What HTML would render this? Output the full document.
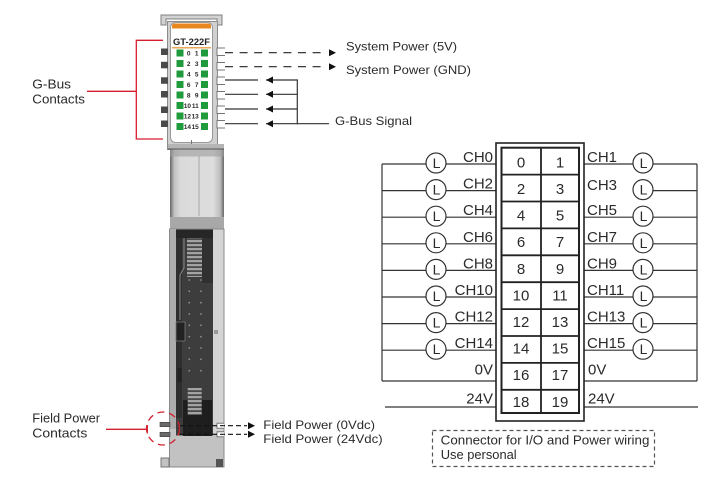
<!DOCTYPE html>
<html><head><meta charset="utf-8"><style>
html,body{margin:0;padding:0;background:#fff;}
svg{display:block;}
text{font-family:"Liberation Sans",sans-serif;fill:#2a2a2a;}
</style></head><body>
<svg width="720" height="500" viewBox="0 0 720 500" xmlns="http://www.w3.org/2000/svg">
<defs>
<linearGradient id="gp" x1="0" x2="1" y1="0" y2="0">
 <stop offset="0" stop-color="#666"/>
 <stop offset="0.08" stop-color="#c2c2c2"/>
 <stop offset="0.2" stop-color="#dadada"/>
 <stop offset="0.8" stop-color="#dddddd"/>
 <stop offset="0.93" stop-color="#bdbdbd"/>
 <stop offset="1" stop-color="#666"/>
</linearGradient>
<pattern id="st" width="6" height="4" patternUnits="userSpaceOnUse">
 <rect width="6" height="4" fill="#4a4a4a"/>
 <rect width="6" height="2.2" fill="#a3a3a3"/>
</pattern>
</defs>

<!-- ============ MODULE ============ -->
<path d="M161,25 V15 H222 V25 H217 V19 H166 V25 Z" fill="#d2d2d2" stroke="#808080"/>
<rect x="167.5" y="21.5" width="50" height="128" fill="#d0d0d0" stroke="#8c8c8c"/>
<!-- left G-bus contacts -->
<g fill="#4a4a4a">
<rect x="161" y="48.5" width="7" height="6.5"/>
<rect x="161" y="61.8" width="7" height="6.5"/>
<rect x="161" y="77.3" width="7" height="6.5"/>
<rect x="161" y="91" width="7" height="6.5"/>
<rect x="161" y="106.5" width="7" height="6.5"/>
<rect x="161" y="120.5" width="7" height="6.5"/>
</g>
<!-- right G-bus contacts -->
<g fill="#fff" stroke="#777" stroke-width="1">
<path d="M225,48 H217 V55.5 H225"/>
<path d="M225,62.5 H217 V70 H225"/>
<path d="M225,77 H217 V84.5 H225"/>
<path d="M225,91.5 H217 V99 H225"/>
<path d="M225,106 H217 V113.5 H225"/>
<path d="M225,120.5 H217 V128 H225"/>
</g>
<!-- label panel -->
<rect x="170.5" y="22.5" width="42" height="120" rx="5" fill="#fff" stroke="#9a9a9a"/>
<path d="M172,28.5 V26 Q172,23.5 175,23.5 H208 Q211,23.5 211,26 V28.5 Z" fill="#e8871e"/>
<text x="191.5" y="45" font-size="9.5" font-weight="bold" text-anchor="middle" textLength="37" lengthAdjust="spacingAndGlyphs" style="fill:#222">GT-222F</text>
<line x1="172" y1="47.8" x2="211" y2="47.8" stroke="#e8871e" stroke-width="1.2"/>
<g fill="#1f9a3c">
<rect x="176.5" y="49.5" width="7" height="7"/><rect x="201" y="49.5" width="7" height="7"/>
<rect x="176.5" y="60" width="7" height="7"/><rect x="201" y="60" width="7" height="7"/>
<rect x="176.5" y="70.5" width="7" height="7"/><rect x="201" y="70.5" width="7" height="7"/>
<rect x="176.5" y="81" width="7" height="7"/><rect x="201" y="81" width="7" height="7"/>
<rect x="176.5" y="91.5" width="7" height="7"/><rect x="201" y="91.5" width="7" height="7"/>
<rect x="176.5" y="102" width="7" height="7"/><rect x="201" y="102" width="7" height="7"/>
<rect x="176.5" y="112.5" width="7" height="7"/><rect x="201" y="112.5" width="7" height="7"/>
<rect x="176.5" y="123" width="7" height="7"/><rect x="201" y="123" width="7" height="7"/>
</g>
<g font-size="6.5" font-weight="bold" text-anchor="end">
<text x="190.5" y="55.5">0</text><text x="198.5" y="55.5">1</text>
<text x="190.5" y="66">2</text><text x="198.5" y="66">3</text>
<text x="190.5" y="76.5">4</text><text x="198.5" y="76.5">5</text>
<text x="190.5" y="87">6</text><text x="198.5" y="87">7</text>
<text x="190.5" y="97.5">8</text><text x="198.5" y="97.5">9</text>
<text x="191" y="108">10</text><text x="198.8" y="108">11</text>
<text x="191" y="118.5">12</text><text x="198.8" y="118.5">13</text>
<text x="191" y="129">14</text><text x="198.8" y="129">15</text>
</g>
<line x1="191.5" y1="140" x2="191.5" y2="145" stroke="#777"/>
<!-- ledge + gradient panel -->
<rect x="168" y="144" width="56" height="5" fill="#b5b5b5"/>
<line x1="168" y1="149" x2="224" y2="149" stroke="#555"/>
<rect x="170" y="149.5" width="54" height="67.5" fill="url(#gp)"/>
<rect x="170" y="149.5" width="54" height="7" fill="#9c9c9c" opacity="0.6"/>
<line x1="199" y1="156" x2="199" y2="216" stroke="#a8a8a8"/>
<rect x="170" y="217" width="54" height="12" fill="#a8a8a8"/>
<line x1="170" y1="229" x2="224" y2="229" stroke="#777"/>
<!-- lower body -->
<rect x="169.5" y="229" width="54.5" height="238" fill="#c2c2c2" stroke="#8a8a8a"/>
<rect x="170" y="229" width="6" height="200" fill="#adadad"/>
<rect x="213" y="229.5" width="10.5" height="205" fill="#d4d4d4"/>
<!-- connector -->
<rect x="176" y="229.5" width="37" height="206" fill="#3d3d3d"/>
<rect x="176" y="229.5" width="37" height="9" fill="#262626"/>
<rect x="176" y="238" width="6" height="180" fill="#2e2e2e"/>
<rect x="202" y="238" width="11" height="45" fill="#303030"/>
<path d="M184,238 V268 L180,275 V320" fill="none" stroke="#8a8a8a" stroke-width="1"/>
<rect x="187" y="238" width="15" height="39" fill="url(#st)"/>
<g fill="#8e8e8e">
<circle cx="189.3" cy="280" r="0.9"/><circle cx="201" cy="280" r="0.9"/>
<circle cx="189.3" cy="291.3" r="0.9"/><circle cx="201" cy="291.3" r="0.9"/>
<circle cx="189.3" cy="302.7" r="0.9"/><circle cx="201" cy="302.7" r="0.9"/>
<circle cx="189.3" cy="314" r="0.9"/><circle cx="201" cy="314" r="0.9"/>
<circle cx="189.3" cy="325.3" r="0.9"/><circle cx="201" cy="325.3" r="0.9"/>
<circle cx="189.3" cy="336.7" r="0.9"/><circle cx="201" cy="336.7" r="0.9"/>
<circle cx="189.3" cy="348" r="0.9"/><circle cx="201" cy="348" r="0.9"/>
<circle cx="189.3" cy="359.3" r="0.9"/><circle cx="201" cy="359.3" r="0.9"/>
<circle cx="189.3" cy="370.7" r="0.9"/><circle cx="201" cy="370.7" r="0.9"/>
</g>
<rect x="176" y="322" width="9" height="19" fill="#222" stroke="#777" stroke-width="0.8"/>
<rect x="177.5" y="368" width="4" height="14" fill="#222"/>
<rect x="214" y="330" width="4" height="4" fill="#999"/>
<rect x="183" y="400" width="29" height="36" fill="#1e1e1e"/>
<rect x="187.7" y="388" width="14" height="27" fill="url(#st)"/>
<!-- bottom feet -->
<path d="M169,458 H161 V467 H169 Z" fill="#c2c2c2" stroke="#777"/>
<rect x="216" y="459" width="7" height="8" fill="#555"/>
<!-- field power contacts -->
<rect x="160" y="422.3" width="10" height="4.4" fill="#6a6a6a" stroke="#444" stroke-width="0.6"/>
<rect x="160" y="432.3" width="10" height="4.4" fill="#6a6a6a" stroke="#444" stroke-width="0.6"/>
<path d="M224,423.3 H217 V428.3 H224" fill="#fff" stroke="#777"/>
<path d="M224,431.7 H217 V436.7 H224" fill="#fff" stroke="#777"/>

<!-- ============ LEFT LABELS (red) ============ -->
<g stroke="#d51f2e" stroke-width="1.3" fill="none">
<path d="M163,40.3 H136.3 V139 H163"/>
<line x1="87" y1="91.3" x2="136.3" y2="91.3"/>
<line x1="106" y1="429.3" x2="147.3" y2="429.3"/>
<line x1="147.3" y1="425" x2="147.3" y2="433.5"/>
<circle cx="163" cy="428.5" r="16.5" stroke-dasharray="7 5"/>
</g>
<g font-size="13">
<text x="32.3" y="88.3" textLength="38.7" lengthAdjust="spacingAndGlyphs">G-Bus</text>
<text x="32.3" y="103.3" textLength="52.7" lengthAdjust="spacingAndGlyphs">Contacts</text>
<text x="32.3" y="422.3" textLength="67.7" lengthAdjust="spacingAndGlyphs">Field Power</text>
<text x="32.3" y="437.3" textLength="55" lengthAdjust="spacingAndGlyphs">Contacts</text>
</g>

<!-- ============ TOP RIGHT SIGNALS ============ -->
<g stroke="#222" stroke-width="1.2" fill="none">
<line x1="225" y1="52.7" x2="327" y2="52.7" stroke-dasharray="8 6.6"/>
<line x1="225" y1="66.7" x2="327" y2="66.7" stroke-dasharray="8 6.6"/>
</g>
<g fill="#111">
<polygon points="329,49.2 336,52.7 329,56.2"/>
<polygon points="329,63.2 336,66.7 329,70.2"/>
</g>
<g stroke="#333" stroke-width="1.2" fill="none">
<line x1="225" y1="80" x2="258" y2="80"/><line x1="266" y1="80" x2="297.3" y2="80"/>
<line x1="225" y1="94.3" x2="258" y2="94.3"/><line x1="266" y1="94.3" x2="297.3" y2="94.3"/>
<line x1="225" y1="109" x2="258" y2="109"/><line x1="266" y1="109" x2="297.3" y2="109"/>
<line x1="225" y1="123.7" x2="258" y2="123.7"/><line x1="266" y1="123.7" x2="329" y2="123.7"/>
<line x1="297.3" y1="79.4" x2="297.3" y2="124.3"/>
</g>
<g fill="#111">
<polygon points="266,80 273,76.5 273,83.5"/>
<polygon points="266,94.3 273,90.8 273,97.8"/>
<polygon points="266,109 273,105.5 273,112.5"/>
<polygon points="266,123.7 273,120.2 273,127.2"/>
</g>
<g font-size="12">
<text x="346" y="50.5" textLength="111" lengthAdjust="spacingAndGlyphs">System Power (5V)</text>
<text x="346" y="74" textLength="125" lengthAdjust="spacingAndGlyphs">System Power (GND)</text>
<text x="335" y="125" textLength="77" lengthAdjust="spacingAndGlyphs">G-Bus Signal</text>
</g>

<!-- ============ FIELD POWER ARROWS ============ -->
<g stroke="#111" stroke-width="1.2" fill="none" stroke-dasharray="5 3">
<line x1="180" y1="425.7" x2="247" y2="425.7"/>
<line x1="180" y1="434.3" x2="247" y2="434.3"/>
</g>
<g fill="#111">
<polygon points="248,422.2 255,425.7 248,429.2"/>
<polygon points="248,430.8 255,434.3 248,437.8"/>
</g>
<g font-size="12">
<text x="263.3" y="429" textLength="111.7" lengthAdjust="spacingAndGlyphs">Field Power (0Vdc)</text>
<text x="263.3" y="443" textLength="119.3" lengthAdjust="spacingAndGlyphs">Field Power (24Vdc)</text>
</g>

<!-- ============ CONNECTOR WIRING ============ -->
<g stroke="#333" stroke-width="1.2" fill="none">
<!-- left vertical -->
<line x1="382" y1="164" x2="382" y2="381"/>
<!-- left wires -->
<line x1="382" y1="164" x2="426" y2="164"/><line x1="446" y1="164" x2="496" y2="164"/>
<line x1="382" y1="190.6" x2="426" y2="190.6"/><line x1="446" y1="190.6" x2="496" y2="190.6"/>
<line x1="382" y1="217.2" x2="426" y2="217.2"/><line x1="446" y1="217.2" x2="496" y2="217.2"/>
<line x1="382" y1="243.8" x2="426" y2="243.8"/><line x1="446" y1="243.8" x2="496" y2="243.8"/>
<line x1="382" y1="270.4" x2="426" y2="270.4"/><line x1="446" y1="270.4" x2="496" y2="270.4"/>
<line x1="382" y1="297" x2="426" y2="297"/><line x1="446" y1="297" x2="496" y2="297"/>
<line x1="382" y1="323.6" x2="426" y2="323.6"/><line x1="446" y1="323.6" x2="496" y2="323.6"/>
<line x1="382" y1="350.2" x2="426" y2="350.2"/><line x1="446" y1="350.2" x2="496" y2="350.2"/>
<line x1="382" y1="381" x2="496" y2="381"/>
<line x1="385" y1="407" x2="496" y2="407"/>
<!-- right vertical -->
<line x1="697" y1="164" x2="697" y2="381"/>
<line x1="584" y1="164" x2="633" y2="164"/><line x1="653" y1="164" x2="697" y2="164"/>
<line x1="653" y1="190.6" x2="697" y2="190.6"/>
<line x1="584" y1="217.2" x2="633" y2="217.2"/><line x1="653" y1="217.2" x2="697" y2="217.2"/>
<line x1="584" y1="243.8" x2="633" y2="243.8"/><line x1="653" y1="243.8" x2="697" y2="243.8"/>
<line x1="584" y1="270.4" x2="633" y2="270.4"/><line x1="653" y1="270.4" x2="697" y2="270.4"/>
<line x1="584" y1="297" x2="633" y2="297"/><line x1="653" y1="297" x2="697" y2="297"/>
<line x1="584" y1="323.6" x2="633" y2="323.6"/><line x1="653" y1="323.6" x2="697" y2="323.6"/>
<line x1="584" y1="350.2" x2="633" y2="350.2"/><line x1="653" y1="350.2" x2="697" y2="350.2"/>
<line x1="584" y1="381" x2="697" y2="381"/>
<line x1="584" y1="407" x2="698" y2="407"/>
</g>
<!-- lamps -->
<g stroke="#333" stroke-width="1.2" fill="#fff">
<circle cx="436" cy="163" r="10"/><circle cx="436" cy="189.6" r="10"/>
<circle cx="436" cy="216.2" r="10"/><circle cx="436" cy="242.8" r="10"/>
<circle cx="436" cy="269.4" r="10"/><circle cx="436" cy="296" r="10"/>
<circle cx="436" cy="322.6" r="10"/><circle cx="436" cy="349.2" r="10"/>
<circle cx="643" cy="163" r="10"/><circle cx="643" cy="189.6" r="10"/>
<circle cx="643" cy="216.2" r="10"/><circle cx="643" cy="242.8" r="10"/>
<circle cx="643" cy="269.4" r="10"/><circle cx="643" cy="296" r="10"/>
<circle cx="643" cy="322.6" r="10"/><circle cx="643" cy="349.2" r="10"/>
</g>
<g font-size="14" text-anchor="middle">
<text x="436.5" y="168">L</text><text x="436.5" y="194.6">L</text>
<text x="436.5" y="221.2">L</text><text x="436.5" y="247.8">L</text>
<text x="436.5" y="274.4">L</text><text x="436.5" y="301">L</text>
<text x="436.5" y="327.6">L</text><text x="436.5" y="354.2">L</text>
<text x="643.5" y="168">L</text><text x="643.5" y="194.6">L</text>
<text x="643.5" y="221.2">L</text><text x="643.5" y="247.8">L</text>
<text x="643.5" y="274.4">L</text><text x="643.5" y="301">L</text>
<text x="643.5" y="327.6">L</text><text x="643.5" y="354.2">L</text>
</g>
<!-- connector box -->
<rect x="496" y="143" width="88" height="278" fill="#fff" stroke="#222" stroke-width="1.6"/>
<rect x="501.5" y="147.7" width="77.5" height="265.3" fill="none" stroke="#222" stroke-width="2"/>
<g stroke="#222" stroke-width="1.8">
<line x1="541" y1="147.7" x2="541" y2="413"/>
<line x1="501.5" y1="174.6" x2="579" y2="174.6"/>
<line x1="501.5" y1="201.5" x2="579" y2="201.5"/>
<line x1="501.5" y1="228.4" x2="579" y2="228.4"/>
<line x1="501.5" y1="255.3" x2="579" y2="255.3"/>
<line x1="501.5" y1="282.2" x2="579" y2="282.2"/>
<line x1="501.5" y1="309.1" x2="579" y2="309.1"/>
<line x1="501.5" y1="336" x2="579" y2="336"/>
<line x1="501.5" y1="362.9" x2="579" y2="362.9"/>
<line x1="501.5" y1="389.8" x2="579" y2="389.8"/>
</g>
<g font-size="15" text-anchor="middle">
<text x="521" y="167.4">0</text><text x="560" y="167.4">1</text>
<text x="521" y="194">2</text><text x="560" y="194">3</text>
<text x="521" y="220.6">4</text><text x="560" y="220.6">5</text>
<text x="521" y="247.2">6</text><text x="560" y="247.2">7</text>
<text x="521" y="273.8">8</text><text x="560" y="273.8">9</text>
<text x="521" y="300.4">10</text><text x="560" y="300.4">11</text>
<text x="521" y="327">12</text><text x="560" y="327">13</text>
<text x="521" y="353.6">14</text><text x="560" y="353.6">15</text>
<text x="521" y="380.2">16</text><text x="560" y="380.2">17</text>
<text x="521" y="406.8">18</text><text x="560" y="406.8">19</text>
</g>
<!-- channel labels -->
<g font-size="15" text-anchor="end">
<text x="493" y="162">CH0</text>
<text x="493" y="188.6">CH2</text>
<text x="493" y="215.2">CH4</text>
<text x="493" y="241.8">CH6</text>
<text x="493" y="268.4">CH8</text>
<text x="493" y="295">CH10</text>
<text x="493" y="321.6">CH12</text>
<text x="493" y="348.2">CH14</text>
<text x="493" y="374.5">0V</text>
<text x="493" y="403.3">24V</text>
</g>
<g font-size="15">
<text x="587" y="162">CH1</text>
<text x="587" y="190">CH3</text>
<text x="587" y="215.2">CH5</text>
<text x="587" y="241.8">CH7</text>
<text x="587" y="268.4">CH9</text>
<text x="587" y="295">CH11</text>
<text x="587" y="321.6">CH13</text>
<text x="587" y="348.2">CH15</text>
<text x="588" y="374.5">0V</text>
<text x="588" y="403.3">24V</text>
</g>

<!-- dashed note box -->
<rect x="432.5" y="430.5" width="222" height="36" fill="none" stroke="#555" stroke-width="1.2" stroke-dasharray="4 3"/>
<g font-size="13">
<text x="440.7" y="444.5" textLength="208.7" lengthAdjust="spacingAndGlyphs">Connector for I/O and Power wiring</text>
<text x="440.7" y="459" textLength="76" lengthAdjust="spacingAndGlyphs">Use personal</text>
</g>
</svg>
</body></html>
